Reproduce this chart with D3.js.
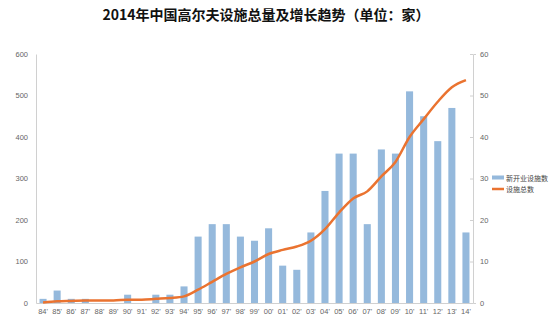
<!DOCTYPE html>
<html><head><meta charset="utf-8">
<script src="https://cdn.jsdelivr.net/npm/d3@7"></script>
<style>body{margin:0;background:#fff}svg{display:block}</style>
</head><body>
<svg id="c" width="550" height="327"></svg>
<script>
const years = ["84'","85'","86'","87'","88'","89'","90'","91'","92'","93'","94'","95'","96'","97'","98'","99'","00'","01'","02'","03'","04'","05'","06'","07'","08'","09'","10'","11'","12'","13'","14'"];
const newFacilities = [10,30,10,10,0,0,20,0,20,20,40,160,190,190,160,150,180,90,80,170,270,360,360,190,370,360,510,450,390,470,170];
const totalFacilities = [0.1,0.4,0.5,0.6,0.6,0.6,0.8,0.8,1.0,1.2,1.6,3.2,5.1,7.0,8.6,10.0,11.8,12.8,13.6,15.0,17.8,21.8,25.2,26.9,30.5,34.0,40.0,44.3,48.5,52.0,53.7];
const leftTicks = [0,100,200,300,400,500,600];
const rightTicks = [0,10,20,30,40,50,60];
const seriesNames = ["新开业设施数","设施总数"];
const title = "2014年中国高尔夫设施总量及增长趋势（单位：家）";

const svg = d3.select("#c");
const L = 36, R = 473, T = 54, B = 303;
const x = d3.scaleBand().domain(years).range([L, R]).paddingInner(0.5).paddingOuter(0.25);
const yL = d3.scaleLinear().domain([0,600]).range([B,T]);
const yR = d3.scaleLinear().domain([0,60]).range([B,T]);
const font = "'Liberation Sans', Arial, sans-serif";

svg.append("text").attr("x",266).attr("y",20).attr("text-anchor","middle")
  .attr("font-family","'Noto Sans CJK SC', sans-serif").attr("font-weight","bold")
  .attr("font-size",14).attr("fill","#111").text(title);

// axes
const gl = svg.append("g").attr("transform",`translate(${L},0)`)
  .call(d3.axisLeft(yL).tickValues(leftTicks).tickSize(0).tickPadding(8));
const gr = svg.append("g").attr("transform",`translate(${R},0)`)
  .call(d3.axisRight(yR).tickValues(rightTicks).tickSize(3).tickPadding(4));
[gl,gr].forEach(g=>{
  g.select(".domain").attr("stroke","#d0d0d0");
  g.selectAll(".tick line").attr("stroke","#d0d0d0").attr("transform", g===gr?"translate(-3,0)":null);
  g.selectAll("text").attr("font-family",font).attr("font-size",7.5).attr("fill","#666");
});
const gx = svg.append("g").attr("transform",`translate(0,${B})`)
  .call(d3.axisBottom(x).tickSize(0).tickPadding(6));
gx.select(".domain").attr("stroke","#d0d0d0");
gx.selectAll("text").attr("font-family",font).attr("font-size",7.5).attr("fill","#666");

// bars
svg.append("g").selectAll("rect").data(newFacilities).join("rect")
  .attr("x",(d,i)=>x(years[i])).attr("width",x.bandwidth())
  .attr("y",d=>yL(d)).attr("height",d=>B-yL(d))
  .attr("fill","#95b9dc");

// line
svg.append("path").datum(totalFacilities)
  .attr("fill","none").attr("stroke","#ea7330").attr("stroke-width",2.5)
  .attr("stroke-linejoin","round")
  .attr("d",d3.line().x((d,i)=>x(years[i])+x.bandwidth()/2).y(d=>yR(d)).curve(d3.curveMonotoneX));

// legend
const lg = svg.append("g");
lg.append("rect").attr("x",492).attr("y",175.5).attr("width",12).attr("height",4).attr("fill","#95b9dc");
lg.append("line").attr("x1",492).attr("x2",504).attr("y1",189).attr("y2",189).attr("stroke","#ea7330").attr("stroke-width",2.5);
lg.selectAll("text").data(seriesNames).join("text")
  .attr("x",506).attr("y",(d,i)=>180.5+i*11)
  .attr("font-family","'Noto Sans CJK SC', sans-serif").attr("font-size",7).attr("fill","#444").text(d=>d);
</script>
</body></html>
